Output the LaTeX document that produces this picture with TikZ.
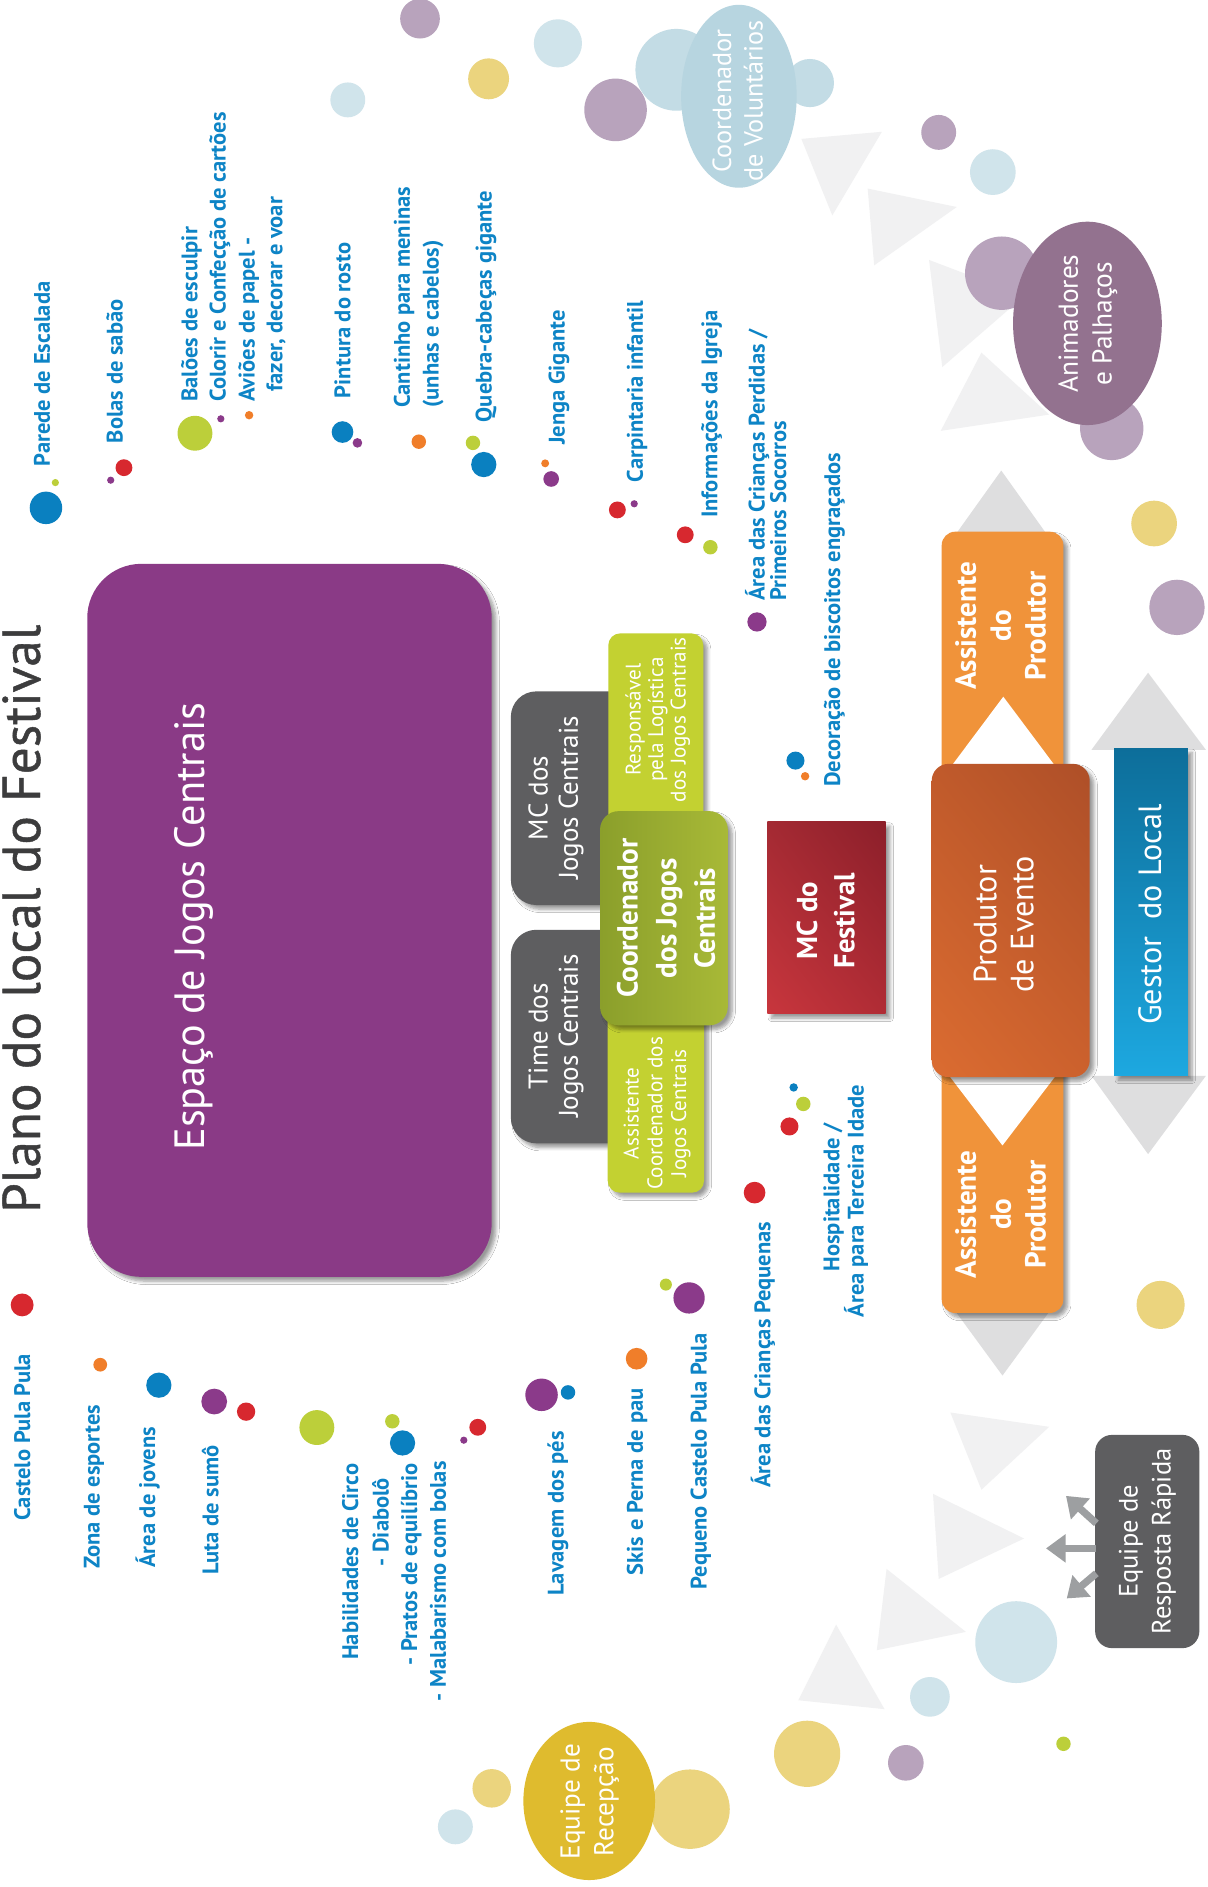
\documentclass[tikz,border=0pt]{standalone}
\usepackage{fontspec}
\setmainfont{PT Sans}
\newfontfamily\ttlfont{PT Sans}[FakeBold=0.8]
\usetikzlibrary{arrows.meta,shadows.blur,shadings}
\definecolor{lblue}{HTML}{0D84C6}
\definecolor{ttl}{HTML}{3C3C3D}
\definecolor{cPurple}{HTML}{8A3A86}
\definecolor{boxgray}{HTML}{5E5E60}
\definecolor{limeg}{HTML}{C3D131}
\definecolor{oliveA}{HTML}{8B9F2B}
\definecolor{oliveB}{HTML}{A8B937}
\definecolor{aorange}{HTML}{F0933A}
\definecolor{gblueA}{HTML}{0D6E9A}
\definecolor{gblueB}{HTML}{1DA8E0}
\definecolor{redUL}{HTML}{A42A33}
\definecolor{redUR}{HTML}{8C1F2A}
\definecolor{redLL}{HTML}{C8363D}
\definecolor{redLR}{HTML}{B02C35}
\definecolor{proUL}{HTML}{C05A2B}
\definecolor{proUR}{HTML}{AE4F28}
\definecolor{proLL}{HTML}{DB6C31}
\definecolor{proLR}{HTML}{CC612D}
\definecolor{dRed}{HTML}{D7282F}
\definecolor{dBlue}{HTML}{0A80C0}
\definecolor{dPur}{HTML}{8B3A8A}
\definecolor{dGreen}{HTML}{BCCF3A}
\definecolor{dOrange}{HTML}{F07E2A}
\definecolor{lpur}{HTML}{B8A3BC}
\definecolor{lblu}{HTML}{D0E4EB}
\definecolor{cvblu}{HTML}{B7D5E0}
\definecolor{cvcirc}{HTML}{C3DCE5}
\definecolor{lyel}{HTML}{EBD47E}
\definecolor{dyel}{HTML}{DFBB2E}
\definecolor{apur}{HTML}{93728F}
\definecolor{tri}{HTML}{F1F1F2}
\definecolor{garrow}{HTML}{DEDEDF}
\definecolor{smarrow}{HTML}{9D9FA1}
\def\pxu{0.025cm}
\newcommand\fsz[2]{\fontsize{#1}{#2}\selectfont}
\tikzset{
  lab/.style={rotate=90, inner sep=0pt, text height=9.3pt, text depth=0pt, text=lblue, font=\bfseries\fsz{13.3}{16}},
  labs/.style={lab, anchor=west},
  labe/.style={lab, anchor=east},
  intext/.style={rotate=90, inner sep=0pt, text=white, align=center},
  shd/.style={blur shadow={shadow blur steps=6}},
  smarr/.style={draw=smarrow, line width=4.3pt, -{Triangle[width=16pt,length=11.5pt]}}
}
\begin{document}
\begin{tikzpicture}[x=0.025cm, y=-0.025cm]
\useasboundingbox (0,0) rectangle (1003,1568);
\fill[white] (0,0) rectangle (1003,1568);
% light triangles
\fill[tri] (665.9,115.4) -- (732.8,109.5) -- (691.6,179) -- cycle;
\fill[tri] (721,156.7) -- (795,172) -- (726.4,220.5) -- cycle;
\fill[tri] (772,216) -- (851,246) -- (783,305) -- cycle;
\fill[tri] (815.5,293) -- (871.8,344.5) -- (781.7,358) -- cycle;
\fill[tri] (694.8,1350) -- (663.3,1412.8) -- (735,1420.2) -- cycle;
\fill[tri] (736.7,1303.7) -- (728.6,1371.2) -- (802.6,1356) -- cycle;
\fill[tri] (775.3,1241.3) -- (780,1312) -- (850.9,1278.4) -- cycle;
\fill[tri] (789.7,1173.7) -- (815.5,1237.9) -- (871.8,1185.6) -- cycle;
% pastel circles
\fill[lpur] (349,15.5) circle (16.5);
\fill[lblu] (463.6,36) circle (20);
\fill[lyel] (406,65.5) circle (17);
\fill[lblu] (289,83) circle (14.5);
\fill[lpur] (511.5,91.3) circle (26);
\fill[cvcirc] (562,58) circle (34);
\fill[cvcirc] (673,69) circle (20);
\fill[cvblu] (614,80) ellipse [x radius=48, y radius=76];
\node[intext, font=\fsz{15.5}{18.5}] (cv) at (613,83.7) {Coordenador\\de Voluntários};
\fill[lpur] (780,110) circle (14.5);
\fill[lblu] (825,143) circle (19);
\fill[lpur] (832.4,227) circle (30.5);
\fill[lpur] (923.8,356) circle (26.3);
\fill[apur] (903.6,268.7) ellipse [x radius=61.8, y radius=84.5];
\node[intext, font=\fsz{16.2}{20}] (an) at (904,269) {Animadores\\e Palhaços};
\fill[lyel] (959,435) circle (19);
\fill[lpur] (978,504.7) circle (23);
\fill[lyel] (964.4,1084.3) circle (20);
\fill[lblu] (844.4,1364.5) circle (34);
\fill[lblu] (772.7,1410) circle (16.5);
\fill[lpur] (752.7,1464.8) circle (14.8);
\fill[lyel] (670.7,1457.3) circle (27.5);
\fill[dGreen] (883.7,1449) circle (6);
\fill[lyel] (573.4,1503.3) circle (33);
\fill[lyel] (408.6,1486) circle (16);
\fill[lblu] (378.4,1518) circle (14.5);
\fill[dyel] (489.6,1496.5) ellipse [x radius=54.7, y radius=65.7];
\node[intext, font=\fsz{16.1}{20}] (rc) at (490,1497) {Equipe de\\Recepção};
% gray arrows
\fill[garrow] (832,391) -- (792,447) -- (872,447) -- cycle;
\fill[garrow] (833,1143) -- (792,1087) -- (874,1087) -- cycle;
\fill[garrow] (954,559) -- (907,623) -- (1002,623) -- cycle;
\fill[garrow] (954,959) -- (907,894) -- (1002,894) -- cycle;
% purple space
\fill[cPurple, shd, rounded corners=32pt] (72.5,468.5) rectangle (408.6,1061);
\node[intext, font=\fsz{25}{30}] (esp) at (161,770) {Espaço de Jogos Centrais};
% gray boxes
\fill[boxgray, shd, rounded corners=15pt] (424.5,574.5) rectangle (530,752);
\fill[boxgray, shd, rounded corners=15pt] (424.5,772.6) rectangle (530,950);
\node[intext, font=\fsz{16}{17.8}] (mcj) at (462,663) {MC dos\\Jogos Centrais};
\node[intext, font=\fsz{16}{17.8}] (tjc) at (462,861) {Time dos\\Jogos Centrais};
% lime boxes
\fill[limeg, shd, rounded corners=7pt] (505.5,526.3) rectangle (584.4,700);
\fill[limeg, shd, rounded corners=7pt] (505,830) rectangle (585,991);
\node[intext, font=\fsz{12.5}{13.3}] (resp) at (546.5,598) {Responsável\\pela Logística\\dos Jogos Centrais};
\node[intext, font=\fsz{12.5}{14}] (acj) at (546,925) {Assistente\\Coordenador dos\\Jogos Centrais};
% olive
\shade[shd, rounded corners=11pt, left color=oliveA, right color=oliveB] (498.6,674) rectangle (604.8,852);
\node[intext, font=\bfseries\fsz{17.2}{22.8}] (cjc) at (553.5,763) {Coordenador\\dos Jogos\\Centrais};
% red
\shade[shd, upper left=redUL, upper right=redUR, lower left=redLL, lower right=redLR] (637.6,683) rectangle (736,842.5);
\node[intext, font=\bfseries\fsz{17}{22}] (mcf) at (686,765) {MC do\\Festival};
% assistants
\fill[aorange, shd, rounded corners=8pt] (782.5,441.8) rectangle (883.6,700);
\fill[aorange, shd, rounded corners=8pt] (782.5,830) rectangle (883.6,1091);
\fill[white] (833.7,578.9) -- (788,640) -- (879.4,640) -- cycle;
\fill[white] (833,951.8) -- (785,889) -- (881,889) -- cycle;
\node[intext, font=\bfseries\fsz{17.2}{20.6}] (ap1) at (831.5,520) {Assistente\\do\\Produtor};
\node[intext, font=\bfseries\fsz{17.2}{20.6}] (ap2) at (831.5,1009) {Assistente\\do\\Produtor};
% produtor
\shade[shd, rounded corners=10pt, upper left=proUL, upper right=proUR, lower left=proLL, lower right=proLR] (774.2,634.7) rectangle (905.5,895);
\node[intext, font=\fsz{19}{22}] (pe) at (834,768) {Produtor\\de Evento};
% gestor
\shade[shd, top color=gblueA, bottom color=gblueB] (925.8,621.7) rectangle (987,894);
\node[intext, font=\fsz{19}{22}] (gl) at (955.5,760) {Gestor~ do Local};
% title
\node[rotate=90, inner sep=0pt, text height=22.4pt, text depth=0pt, text=ttl, font=\ttlfont\fsz{31.5}{36}] (title) at (17.5,763.5) {Plano do local do Festival};
% dots top
\fill[dBlue] (38.2,422) circle (13.5);
\fill[dGreen] (46,401) circle (3);
\fill[dRed] (103,388.6) circle (7);
\fill[dPur] (92,399) circle (3);
\fill[dGreen] (162,360) circle (14.5);
\fill[dPur] (183.5,348) circle (3);
\fill[dOrange] (207,345) circle (3.5);
\fill[dBlue] (284.6,359) circle (9);
\fill[dPur] (297,368) circle (4);
\fill[dOrange] (348,367) circle (6);
\fill[dGreen] (393,368) circle (6);
\fill[dBlue] (402,386) circle (10.5);
\fill[dOrange] (453,385) circle (3.3);
\fill[dPur] (458,398) circle (6.5);
\fill[dRed] (513,423.7) circle (7);
\fill[dPur] (527,418.6) circle (3);
\fill[dRed] (569.4,444.4) circle (7);
\fill[dGreen] (590.3,454.7) circle (6);
\fill[dPur] (629,516.8) circle (8);
\fill[dBlue] (661,632) circle (7.5);
\fill[dOrange] (669,645) circle (3.5);
% dots bottom
\fill[dRed] (18.4,1084.3) circle (9.5);
\fill[dOrange] (83.3,1134) circle (5.7);
\fill[dBlue] (132,1151) circle (10.5);
\fill[dPur] (178,1164.6) circle (10.7);
\fill[dRed] (204.5,1173) circle (7.6);
\fill[dGreen] (263.3,1186.2) circle (14.5);
\fill[dGreen] (326,1181) circle (6);
\fill[dBlue] (334.5,1199) circle (10.5);
\fill[dRed] (397,1186) circle (7);
\fill[dPur] (385.4,1196.7) circle (3);
\fill[dPur] (450,1159) circle (13.5);
\fill[dBlue] (472,1157) circle (6);
\fill[dOrange] (529,1129) circle (9);
\fill[dPur] (572.6,1078.5) circle (13);
\fill[dGreen] (553.3,1067.4) circle (5);
\fill[dRed] (627,991) circle (9);
\fill[dBlue] (659.5,903.6) circle (3.5);
\fill[dGreen] (667.5,917.3) circle (6);
\fill[dRed] (656,936) circle (7.5);
% labels top
\node[labs] (l1) at (35,387.6) {Parede de Escalada};
\node[labs] (l2) at (95.4,368.6) {Bolas de sabão};
\node[labs] (l3) at (157.4,334) {Balões de esculpir};
\node[labs] (l4) at (181,334) {Colorir e Confecção de cartões};
\node[labs] (l5) at (205,334) {Aviões de papel -};
\node[labs] (l6) at (228,325.5) {fazer, decorar e voar};
\node[labs] (l7) at (284.6,331) {Pintura do rosto};
\node[labs] (l8) at (334,339) {Cantinho para meninas};
\node[labs] (l9) at (358,339) {(unhas e cabelos)};
\node[labs] (l10) at (402,351) {Quebra-cabeças gigante};
\node[labs] (l11) at (462.7,370) {Jenga Gigante};
\node[labs] (l12) at (527.6,401) {Carpintaria infantil};
\node[labs] (l13) at (589.6,430.6) {Informações da Igreja};
\node[labs] (l14) at (628.9,499.5) {Área das Crianças Perdidas /};
\node[labs] (l15) at (646.6,499.5) {Primeiros Socorros};
\node[labs] (l16) at (691.6,654) {Decoração de biscoitos engraçados};
% labels bottom
\node[labe] (b1) at (18.4,1124.8) {Castelo Pula Pula};
\node[labe] (b2) at (76.3,1167) {Zona de esportes};
\node[labe] (b3) at (122.4,1185.6) {Área de jovens};
\node[labe] (b4) at (175,1200.7) {Luta de sumô};
\node[labe] (b5) at (291,1216) {Habilidades de Circo};
\node[labe] (b6) at (316.4,1227.8) {- Diabolô};
\node[labe] (b7) at (340,1216) {- Pratos de equilíbrio};
\node[labe] (b8) at (364,1214) {- Malabarismo com bolas};
\node[labe] (b9) at (461.7,1189) {Lavagem dos pés};
\node[labe] (b10) at (527.6,1153.5) {Skis e Perna de pau};
\node[labe] (b11) at (580.6,1108) {Pequeno Castelo Pula Pula};
\node[labe] (b12) at (633.7,1015) {Área das Crianças Pequenas};
\node[lab] (b13) at (691,995) {Hospitalidade /};
\node[lab] (b14) at (711,998) {Área para Terceira Idade};
% rapid response
\node[rotate=90, fill=boxgray, rounded corners=10pt, minimum width=177.2*\pxu, minimum height=86.6*\pxu, inner sep=0pt, text=white, align=center, font=\fsz{15.7}{19.5}] (rr) at (953.3,1280.9) {Equipe de\\Resposta Rápida};
\coordinate (rr1s) at (911,1265.8);
\coordinate (rr1e) at (885.8,1243);
\coordinate (rr2s) at (911,1286.6);
\coordinate (rr2e) at (869.2,1286.6);
\coordinate (rr3s) at (911,1307.4);
\coordinate (rr3e) at (886.4,1328.2);
\draw[smarr] (rr1s) -- (rr1e);
\draw[smarr] (rr2s) -- (rr2e);
\draw[smarr] (rr3s) -- (rr3e);
\end{tikzpicture}
\end{document}
